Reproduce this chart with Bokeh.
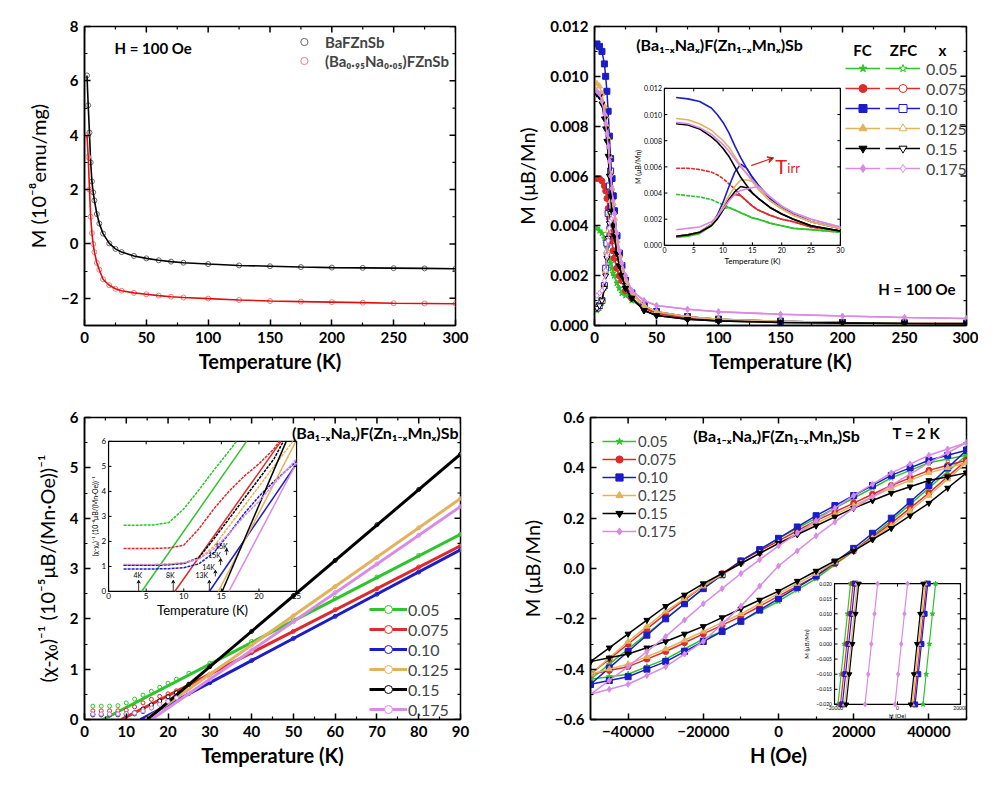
import numpy as np
from bokeh.plotting import figure
from bokeh.layouts import row, column
from bokeh.models import (Range1d, Legend, LegendItem, Label, Arrow,
                          VeeHead, FixedTicker, CustomJSTickFormatter, NumeralTickFormatter)
from bokeh.core.properties import value
from bokeh.embed import file_html
from bokeh.resources import INLINE

FONT = "Lato"

# ===================== DATA =====================
# ---- panel (a): M(T), H = 100 Oe
a_T = [2, 3, 4, 5, 6, 7, 8, 10, 12, 15, 20, 25, 30, 40, 50, 60, 70, 80, 100, 125, 150, 175, 200, 225, 250, 275, 300]
a_BaFZnSb = [6.2, 5.1, 4.1, 3.0, 2.3, 1.9, 1.6, 1.1, 0.75, 0.38, 0.02, -0.18, -0.30, -0.44, -0.53, -0.60, -0.65, -0.69, -0.74, -0.79, -0.82, -0.85, -0.87, -0.88, -0.89, -0.90, -0.91]
a_BaNaFZnSb = [4.0, 3.2, 2.0, 1.0, 0.4, 0.0, -0.3, -0.7, -0.95, -1.3, -1.52, -1.65, -1.72, -1.80, -1.85, -1.90, -1.94, -1.97, -2.01, -2.06, -2.10, -2.12, -2.14, -2.16, -2.18, -2.19, -2.20]
a_names = ["BaFZnSb", "(Ba₀.₉₅Na₀.₀₅)FZnSb"]

# ---- shared series info
x_labels = ["0.05", "0.075", "0.10", "0.125", "0.15", "0.175"]
colors = ["#2ec42e", "#dd2b2b", "#1c1cc8", "#e3b25c", "#000000", "#d98ae6"]
markers = ["star", "circle", "square", "triangle", "inverted_triangle", "diamond"]

# ---- panel (b): FC / ZFC M(T), mu_B/Mn
b_T = [2, 4, 6, 8, 9, 10, 11, 12, 13, 14, 15, 16, 18, 20, 22, 25, 30, 40, 50, 75, 100, 150, 200, 250, 300]
b_fc_005 = [0.0039, 0.0038, 0.0037, 0.0035, 0.0033, 0.0031, 0.0029, 0.0027, 0.0025, 0.0023, 0.0021, 0.0020, 0.0017, 0.0015, 0.0013, 0.0012, 0.0010, 0.0007, 0.0005, 0.0003, 0.00022, 0.00015, 0.00012, 0.0001, 0.00008]
b_zfc_005 = [0.0006, 0.0007, 0.0009, 0.0015, 0.0021, 0.0028, 0.0029, 0.0027, 0.0025, 0.0023, 0.0021, 0.0020, 0.0017, 0.0015, 0.0013, 0.0012, 0.0010, 0.0007, 0.0005, 0.0003, 0.00022, 0.00015, 0.00012, 0.0001, 0.00008]
b_fc_0075 = [0.0059, 0.0059, 0.0058, 0.0056, 0.0054, 0.0051, 0.0047, 0.0043, 0.0038, 0.0034, 0.0030, 0.0027, 0.0023, 0.0020, 0.0018, 0.0014, 0.0011, 0.0007, 0.0005, 0.0003, 0.00022, 0.00015, 0.00011, 0.00009, 0.00008]
b_zfc_0075 = [0.0007, 0.0008, 0.0010, 0.0016, 0.0022, 0.0029, 0.0035, 0.0039, 0.0038, 0.0034, 0.0030, 0.0027, 0.0023, 0.0020, 0.0018, 0.0014, 0.0011, 0.0007, 0.0005, 0.0003, 0.00022, 0.00015, 0.00011, 0.00009, 0.00008]
b_fc_010 = [0.0113, 0.0112, 0.0110, 0.0105, 0.0100, 0.0094, 0.0086, 0.0076, 0.0067, 0.0059, 0.0052, 0.0046, 0.0036, 0.0029, 0.0024, 0.0018, 0.0013, 0.0008, 0.00055, 0.00035, 0.00025, 0.00017, 0.00012, 0.0001, 0.00009]
b_zfc_010 = [0.0007, 0.0008, 0.0010, 0.0016, 0.0023, 0.0033, 0.0045, 0.0056, 0.0062, 0.0059, 0.0052, 0.0046, 0.0036, 0.0029, 0.0024, 0.0018, 0.0013, 0.0008, 0.00055, 0.00035, 0.00025, 0.00017, 0.00012, 0.0001, 0.00009]
b_fc_0125 = [0.0097, 0.0096, 0.0093, 0.0088, 0.0084, 0.0080, 0.0075, 0.0068, 0.0061, 0.0055, 0.0049, 0.0043, 0.0034, 0.0028, 0.0023, 0.0018, 0.0013, 0.0008, 0.00055, 0.00035, 0.00025, 0.00017, 0.00012, 0.0001, 0.00009]
b_zfc_0125 = [0.0007, 0.0008, 0.0010, 0.0016, 0.0022, 0.0030, 0.0038, 0.0045, 0.0050, 0.0050, 0.0049, 0.0043, 0.0034, 0.0028, 0.0023, 0.0018, 0.0013, 0.0008, 0.00055, 0.00035, 0.00025, 0.00017, 0.00012, 0.0001, 0.00009]
b_fc_015 = [0.0093, 0.0092, 0.0089, 0.0083, 0.0079, 0.0074, 0.0068, 0.0060, 0.0052, 0.0046, 0.0040, 0.0036, 0.0029, 0.0024, 0.0020, 0.0015, 0.0011, 0.0006, 0.0004, 0.00025, 0.00018, 0.00012, 0.0001, 0.00008, 0.00007]
b_zfc_015 = [0.0007, 0.0008, 0.0010, 0.0015, 0.0020, 0.0027, 0.0035, 0.0041, 0.0045, 0.0044, 0.0040, 0.0036, 0.0029, 0.0024, 0.0020, 0.0015, 0.0011, 0.0006, 0.0004, 0.00025, 0.00018, 0.00012, 0.0001, 0.00008, 0.00007]
b_fc_0175 = [0.0094, 0.0093, 0.0090, 0.0085, 0.0081, 0.0077, 0.0072, 0.0066, 0.0060, 0.0055, 0.0050, 0.0045, 0.0037, 0.0030, 0.0025, 0.0020, 0.0014, 0.0010, 0.0008, 0.00065, 0.00055, 0.00045, 0.00038, 0.00032, 0.00028]
b_zfc_0175 = [0.0012, 0.0013, 0.0014, 0.0018, 0.0022, 0.0028, 0.0034, 0.0039, 0.0042, 0.0043, 0.0044, 0.0045, 0.0037, 0.0030, 0.0025, 0.0020, 0.0014, 0.0010, 0.0008, 0.00065, 0.00055, 0.00045, 0.00038, 0.00032, 0.00028]

# ---- panel (c): inverse susceptibility (10^-5 units), with Curie-Weiss fits
c_T = [2, 4, 6, 8, 10, 12, 14, 16, 18, 20, 22, 25, 30, 40, 50, 60, 70, 80, 90]
c_005 = [0.265, 0.265, 0.266, 0.275, 0.33, 0.405, 0.485, 0.56, 0.64, 0.72, 0.80, 0.92, 1.12, 1.55, 1.98, 2.41, 2.83, 3.26, 3.68]
c_0075 = [0.172, 0.172, 0.172, 0.174, 0.185, 0.25, 0.33, 0.40, 0.46, 0.51, 0.57, 0.70, 0.90, 1.33, 1.75, 2.18, 2.60, 3.03, 3.45]
c_010 = [0.09, 0.09, 0.09, 0.091, 0.095, 0.11, 0.155, 0.23, 0.31, 0.38, 0.44, 0.52, 0.73, 1.17, 1.61, 2.05, 2.49, 2.93, 3.37]
c_0125 = [0.105, 0.105, 0.105, 0.107, 0.112, 0.13, 0.18, 0.26, 0.34, 0.42, 0.50, 0.62, 0.90, 1.48, 2.06, 2.64, 3.22, 3.81, 4.39]
c_015 = [0.105, 0.105, 0.105, 0.107, 0.112, 0.135, 0.21, 0.29, 0.37, 0.45, 0.53, 0.70, 1.05, 1.75, 2.46, 3.16, 3.87, 4.57, 5.27]
c_0175 = [0.108, 0.108, 0.108, 0.11, 0.115, 0.13, 0.17, 0.23, 0.30, 0.36, 0.43, 0.53, 0.80, 1.37, 1.94, 2.52, 3.09, 3.66, 4.23]
c_fit_T0 = [4.4, 8.8, 13.4, 14.6, 15.1, 16.0]      # x-intercepts of the fits (K)
c_fit_Tend = 90
c_fit_yend = [3.68, 3.45, 3.37, 4.39, 5.27, 4.23]  # fit value at 90 K
c_theta_labels = ["4K", "8K", "13K", "14K", "15K", "16K"]

# ---- panel (d): M(H) loops at 2 K
d_H_down = [50000, 45000, 40000, 35000, 30000, 25000, 20000, 15000, 10000, 5000, 0,
            -5000, -10000, -15000, -20000, -25000, -30000, -35000, -40000, -45000, -50000]
d_H_up = [-50000, -45000, -40000, -35000, -30000, -25000, -20000, -15000, -10000, -5000, 0,
          5000, 10000, 15000, 20000, 25000, 30000, 35000, 40000, 45000, 50000]
d_dn_005 = [0.45, 0.435, 0.42, 0.39, 0.36, 0.32, 0.28, 0.24, 0.20, 0.16, 0.12, 0.075, 0.03, -0.025, -0.08, -0.14, -0.20, -0.26, -0.32, -0.38, -0.44]
d_up_005 = [-0.44, -0.43, -0.42, -0.39, -0.36, -0.32, -0.28, -0.25, -0.21, -0.17, -0.13, -0.085, -0.04, 0.015, 0.07, 0.13, 0.19, 0.255, 0.32, 0.385, 0.45]
d_dn_0075 = [0.43, 0.41, 0.39, 0.36, 0.33, 0.295, 0.26, 0.225, 0.19, 0.15, 0.11, 0.07, 0.03, -0.02, -0.07, -0.125, -0.18, -0.24, -0.30, -0.36, -0.42]
d_up_0075 = [-0.42, -0.405, -0.39, -0.36, -0.33, -0.295, -0.26, -0.225, -0.19, -0.15, -0.11, -0.07, -0.03, 0.02, 0.07, 0.125, 0.18, 0.24, 0.30, 0.365, 0.43]
d_dn_010 = [0.47, 0.45, 0.43, 0.40, 0.37, 0.33, 0.29, 0.25, 0.21, 0.165, 0.12, 0.075, 0.03, -0.025, -0.08, -0.14, -0.20, -0.265, -0.33, -0.395, -0.46]
d_up_010 = [-0.46, -0.445, -0.43, -0.40, -0.37, -0.33, -0.29, -0.25, -0.21, -0.165, -0.12, -0.075, -0.03, 0.025, 0.08, 0.14, 0.20, 0.265, 0.33, 0.40, 0.47]
d_dn_0125 = [0.42, 0.40, 0.38, 0.35, 0.32, 0.285, 0.25, 0.215, 0.18, 0.14, 0.10, 0.06, 0.02, -0.025, -0.07, -0.12, -0.17, -0.23, -0.29, -0.355, -0.42]
d_up_0125 = [-0.42, -0.40, -0.38, -0.35, -0.32, -0.285, -0.25, -0.215, -0.18, -0.14, -0.10, -0.06, -0.02, 0.025, 0.07, 0.12, 0.17, 0.23, 0.29, 0.355, 0.42]
d_dn_015 = [0.38, 0.365, 0.35, 0.325, 0.30, 0.27, 0.24, 0.205, 0.17, 0.135, 0.10, 0.06, 0.02, -0.02, -0.06, -0.105, -0.15, -0.205, -0.26, -0.315, -0.37]
d_up_015 = [-0.37, -0.355, -0.34, -0.315, -0.29, -0.26, -0.23, -0.195, -0.16, -0.125, -0.09, -0.05, -0.01, 0.03, 0.07, 0.115, 0.16, 0.21, 0.26, 0.32, 0.38]
d_dn_0175 = [0.50, 0.475, 0.45, 0.415, 0.38, 0.335, 0.29, 0.24, 0.19, 0.14, 0.09, 0.035, -0.02, -0.08, -0.14, -0.205, -0.27, -0.33, -0.39, -0.445, -0.50]
d_up_0175 = [-0.50, -0.48, -0.46, -0.425, -0.39, -0.34, -0.29, -0.22, -0.15, -0.07, 0.01, 0.07, 0.13, 0.185, 0.24, 0.285, 0.33, 0.375, 0.42, 0.46, 0.50]
# inset (d): zoom around M = 0
d_in_M = [-0.02, -0.01, 0.0, 0.01, 0.02]
d_in_L_005 = [-18900, -17900, -16900, -15900, -14900]
d_in_R_005 = [8100, 9100, 10100, 11100, 12100]
d_in_L_0075 = [-18100, -17100, -16100, -15100, -14100]
d_in_R_0075 = [5200, 6200, 7200, 8200, 9200]
d_in_L_010 = [-17500, -16500, -15500, -14500, -13500]
d_in_R_010 = [5600, 6600, 7600, 8600, 9600]
d_in_L_0125 = [-16800, -15800, -14800, -13800, -12800]
d_in_R_0125 = [4700, 5700, 6700, 7700, 8700]
d_in_L_015 = [-16300, -15300, -14300, -13300, -12300]
d_in_R_015 = [4200, 5200, 6200, 7200, 8200]
d_in_L_0175 = [-10300, -9300, -8300, -7300, -6300]
d_in_R_0175 = [-800, 200, 1200, 2200, 3200]

b_fc = [b_fc_005, b_fc_0075, b_fc_010, b_fc_0125, b_fc_015, b_fc_0175]
b_zfc = [b_zfc_005, b_zfc_0075, b_zfc_010, b_zfc_0125, b_zfc_015, b_zfc_0175]
c_data = [c_005, c_0075, c_010, c_0125, c_015, c_0175]
d_dn = [d_dn_005, d_dn_0075, d_dn_010, d_dn_0125, d_dn_015, d_dn_0175]
d_up = [d_up_005, d_up_0075, d_up_010, d_up_0125, d_up_015, d_up_0175]
d_in_L = [d_in_L_005, d_in_L_0075, d_in_L_010, d_in_L_0125, d_in_L_015, d_in_L_0175]
d_in_R = [d_in_R_005, d_in_R_0075, d_in_R_010, d_in_R_0125, d_in_R_015, d_in_R_0175]

FORMULA = "(Ba₁₋ₓNaₓ)F(Zn₁₋ₓMnₓ)Sb"

# ===================== HELPERS =====================
def fig(xr, yr, fw, fh, bl, br, bt, bb):
    p = figure(x_range=Range1d(*xr), y_range=Range1d(*yr),
               frame_width=fw, frame_height=fh,
               min_border_left=bl, min_border_right=br,
               min_border_top=bt, min_border_bottom=bb,
               output_backend="svg", toolbar_location=None, tools="")
    p.xgrid.visible = False
    p.ygrid.visible = False
    p.outline_line_color = "black"
    p.outline_line_width = 1.5
    return p


def style_axes(p, xr, yr, fw, fh, xt, xm, yt, ym, xfmt, yfmt, xlabel, ylabel):
    xtk = FixedTicker(ticks=xt, minor_ticks=xm)
    ytk = FixedTicker(ticks=yt, minor_ticks=ym)
    xa, ya = p.xaxis[0], p.yaxis[0]
    xa.ticker = xtk
    ya.ticker = ytk
    if xfmt is not None:
        xa.formatter = xfmt
    if yfmt is not None:
        ya.formatter = yfmt
    for ax in (xa, ya):
        ax.axis_line_width = 1.5
        ax.major_tick_in = 6
        ax.major_tick_out = 0
        ax.minor_tick_in = 3
        ax.minor_tick_out = 0
        ax.major_tick_line_width = 1.5
        ax.minor_tick_line_width = 1.2
        ax.major_label_text_font = FONT
        ax.major_label_text_font_style = "bold"
        ax.major_label_text_font_size = "15px"
        ax.major_label_text_color = "black"
        ax.major_label_standoff = 6
        ax.axis_label_text_font = FONT
        ax.axis_label_text_font_size = "20px"
        ax.axis_label_text_color = "black"
    xa.axis_label = xlabel
    xa.axis_label_text_font_style = "bold"
    xa.axis_label_standoff = 3
    ya.axis_label = ylabel
    ya.axis_label_text_font_style = "normal"
    ya.axis_label_standoff = 8
    # mirrored inward ticks on the top and right frame edges
    dx = (xr[1] - xr[0]) / fw
    dy = (yr[1] - yr[0]) / fh
    top, rgt = yr[1], xr[1]
    for ticks, ln, lw in ((xt, 6, 1.5), (xm, 3, 1.2)):
        p.segment(x0=ticks, y0=[top] * len(ticks), x1=ticks, y1=[top - ln * dy] * len(ticks),
                  line_color="black", line_width=lw)
    for ticks, ln, lw in ((yt, 6, 1.5), (ym, 3, 1.2)):
        p.segment(x0=[rgt] * len(ticks), y0=ticks, x1=[rgt - ln * dx] * len(ticks), y1=ticks,
                  line_color="black", line_width=lw)


def lab(p, fr, sx, sy, text, size, bold=True, align="left", color="black", baseline="middle"):
    L, R, T, B, x0, x1, y0, y1 = fr
    x = x0 + (sx - L) / (R - L) * (x1 - x0)
    y = y0 + (B - sy) / (B - T) * (y1 - y0)
    p.add_layout(Label(x=x, y=y, text=text, text_font=FONT, text_font_size=f"{size}px",
                       text_font_style="bold" if bold else "normal", text_align=align,
                       text_baseline=baseline, text_color=color))


def inset(p, xr, yr, frac, fw, fh):
    xlo, xhi = xr
    ylo, yhi = yr
    fx0, fx1, fy0, fy1 = frac
    sx = (xhi - xlo) / (fx1 - fx0)
    sy = (yhi - ylo) / (fy1 - fy0)
    p.extra_x_ranges = {"in": Range1d(xlo - fx0 * sx, xlo - fx0 * sx + sx)}
    p.extra_y_ranges = {"in": Range1d(ylo - fy0 * sy, ylo - fy0 * sy + sy)}
    p.quad(left=[xlo], right=[xhi], bottom=[ylo], top=[yhi], fill_color="white",
           line_color="black", line_width=1.2, x_range_name="in", y_range_name="in")
    return sx / fw, sy / fh


def inset_axes(p, xr, yr, dx, dy, xt, xl, yt, yl, tfs, xtext, xfs, xoff, ytext, yfs, yoff):
    xlo, xhi = xr
    ylo, yhi = yr
    kw = dict(x_range_name="in", y_range_name="in")
    n, m = len(xt), len(yt)
    tl = 3
    sk = dict(line_color="black", line_width=1, **kw)
    p.segment(x0=xt, y0=[ylo] * n, x1=xt, y1=[ylo + tl * dy] * n, **sk)
    p.segment(x0=xt, y0=[yhi] * n, x1=xt, y1=[yhi - tl * dy] * n, **sk)
    p.segment(x0=[xlo] * m, y0=yt, x1=[xlo + tl * dx] * m, y1=yt, **sk)
    p.segment(x0=[xhi] * m, y0=yt, x1=[xhi - tl * dx] * m, y1=yt, **sk)
    tk = dict(text_font=value(FONT), text_font_size=f"{tfs}px", text_color="black", **kw)
    p.text(x=xt, y=[ylo - 2 * dy] * n, text=xl, text_align="center", text_baseline="top", **tk)
    p.text(x=[xlo - 2.5 * dx] * m, y=yt, text=yl, text_align="right", text_baseline="middle", **tk)
    p.text(x=[(xlo + xhi) / 2], y=[ylo - xoff * dy], text=[xtext], text_align="center",
           text_baseline="top", text_font=value(FONT), text_font_size=f"{xfs}px",
           text_color="black", **kw)
    p.text(x=[xlo - yoff * dx], y=[(ylo + yhi) / 2], text=[ytext], angle=np.pi / 2,
           text_align="center", text_baseline="middle", text_font=value(FONT),
           text_font_size=f"{yfs}px", text_color="black", **kw)


def clip_inc(xs, ys, xmax, ymax):
    ox, oy = [xs[0]], [ys[0]]
    for i in range(1, len(xs)):
        x0, y0, x1, y1 = xs[i - 1], ys[i - 1], xs[i], ys[i]
        if x1 <= xmax and y1 <= ymax:
            ox.append(x1)
            oy.append(y1)
            continue
        tx = (xmax - x0) / (x1 - x0) if x1 > xmax else 1.0
        ty = (ymax - y0) / (y1 - y0) if y1 > ymax else 1.0
        t = min(tx, ty)
        ox.append(x0 + t * (x1 - x0))
        oy.append(y0 + t * (y1 - y0))
        break
    return ox, oy


def legend(items, loc, fs, gw, gh, standoff=5, bold=False):
    return Legend(items=items, location=loc, padding=0, margin=0, spacing=0,
                  glyph_width=gw, glyph_height=gh, label_height=gh, label_standoff=standoff,
                  label_text_font=FONT, label_text_font_size=f"{fs}px",
                  label_text_font_style="bold" if bold else "normal",
                  background_fill_alpha=0, border_line_color=None)


fmt_int = CustomJSTickFormatter(code="return (tick < 0 ? '\u2212' : '') + Math.abs(tick).toFixed(0);")
fmt_1 = CustomJSTickFormatter(code="return (tick < 0 ? '\u2212' : '') + Math.abs(tick).toFixed(1);")

FA = (92, 463, 34, 333, 0, 300, -3, 8)
FB = (602, 974, 34, 333, 0, 300, 0, 0.012)
FCC = (92, 468, 425, 727, 0, 90, 0, 6)
FD = (598, 974, 425, 727, -50000, 50000, -0.6, 0.6)

# ===================== PANEL (a) =====================
pa = fig((0, 300), (-3, 8), 371, 299, 84, 34, 26, 63)
style_axes(pa, (0, 300), (-3, 8), 371, 299, list(range(0, 301, 50)), list(range(25, 300, 50)),
           [-2, 0, 2, 4, 6, 8], [-3, -1, 1, 3, 5, 7], None, fmt_int,
           "Temperature (K)", "M (10⁻⁸emu/mg)")
sa1 = pa.scatter(a_T, a_BaFZnSb, marker="circle", size=5, fill_color=None,
                 line_color="#666666", line_width=1)
pa.line(a_T, a_BaFZnSb, line_color="black", line_width=1.6)
sa2 = pa.scatter(a_T, a_BaNaFZnSb, marker="circle", size=5, fill_color=None,
                 line_color="#e88080", line_width=1)
pa.line(a_T, a_BaNaFZnSb, line_color="#e01010", line_width=1.6)
lega = Legend(items=[LegendItem(label=a_names[0], renderers=[sa1]),
                     LegendItem(label=a_names[1], renderers=[sa2])],
              location="top_right", padding=2, margin=6, spacing=0, glyph_width=18,
              glyph_height=19, label_height=19, label_standoff=12, label_text_font=FONT,
              label_text_font_size="15px", label_text_font_style="bold",
              background_fill_alpha=0, border_line_color=None)
pa.add_layout(lega)
lab(pa, FA, 15, 50, "(a)", 22)
lab(pa, FA, 122, 55, "H = 100 Oe", 15)

# ===================== PANEL (b) =====================
pb = fig((0, 300), (0, 0.012), 372, 299, 105, 12, 26, 63)
style_axes(pb, (0, 300), (0, 0.012), 372, 299, list(range(0, 301, 50)), list(range(25, 300, 50)),
           [0, 0.002, 0.004, 0.006, 0.008, 0.010, 0.012],
           [0.001, 0.003, 0.005, 0.007, 0.009, 0.011],
           None, NumeralTickFormatter(format="0.000"), "Temperature (K)", "M (μB/Mn)")
fc_items, zfc_items = [], []
for i in range(6):
    c = colors[i]
    lz = pb.line(b_T, b_zfc[i], line_color=c, line_width=1.5)
    sz = pb.scatter(b_T, b_zfc[i], marker=markers[i], size=6, line_color=c, fill_color="white")
    lf = pb.line(b_T, b_fc[i], line_color=c, line_width=1.5)
    sf = pb.scatter(b_T, b_fc[i], marker=markers[i], size=6, line_color=c, fill_color=c)
    fc_items.append(LegendItem(label=" ", renderers=[lf, sf]))
    zfc_items.append(LegendItem(label=x_labels[i], renderers=[lz, sz]))
pb.add_layout(legend(fc_items, (251, 147), 15, 35, 20))
pb.add_layout(legend(zfc_items, (291, 147), 16, 35, 20, standoff=6))
lab(pb, FB, 515, 50, "(b)", 22)
lab(pb, FB, 727, 52, FORMULA, 16, align="center")
lab(pb, FB, 870, 57, "FC", 15, align="center")
lab(pb, FB, 911, 57, "ZFC", 15, align="center")
lab(pb, FB, 950, 57, "x", 15, align="center")
lab(pb, FB, 963, 296, "H = 100 Oe", 15, align="right")

# inset (b)
bxr, byr = (0, 30), (0, 0.012)
dxb, dyb = inset(pb, bxr, byr, (0.188, 0.661, 0.268, 0.793), 372, 299)
idx = [k for k, t in enumerate(b_T) if t <= 30]
for i in range(6):
    c = colors[i]
    pb.line([b_T[k] for k in idx], [b_zfc[i][k] for k in idx], line_color=c, line_width=1.6,
            x_range_name="in", y_range_name="in")
    pb.line([b_T[k] for k in idx], [b_fc[i][k] for k in idx], line_color=c, line_width=1.6,
            line_dash="4 1" if i < 2 else "solid", x_range_name="in", y_range_name="in")
inset_axes(pb, bxr, byr, dxb, dyb, [0, 5, 10, 15, 20, 25, 30],
           ["0", "5", "10", "15", "20", "25", "30"],
           [0, 0.002, 0.004, 0.006, 0.008, 0.010, 0.012],
           ["0.000", "0.002", "0.004", "0.006", "0.008", "0.010", "0.012"],
           7, "Temperature (K)", 8, 11, "M (μB/Mn)", 7, 26)
pb.add_layout(Arrow(end=VeeHead(size=6, line_color="#e02020", line_width=1.2),
                    x_start=14.8, y_start=0.0061, x_end=18.6, y_end=0.0067,
                    line_color="#e02020", line_width=1.2, x_range_name="in", y_range_name="in"))
pb.add_layout(Label(x=18.9, y=0.0061, text="T", text_font=FONT, text_font_size="20px",
                    text_color="#e02020", text_baseline="alphabetic",
                    x_range_name="in", y_range_name="in"))
pb.add_layout(Label(x=18.9 + 12 * dxb, y=0.0059, text="irr", text_font=FONT,
                    text_font_size="13px", text_color="#e02020", text_baseline="alphabetic",
                    x_range_name="in", y_range_name="in"))

# ===================== PANEL (c) =====================
pc = fig((0, 90), (0, 6), 376, 302, 84, 29, 29, 57)
style_axes(pc, (0, 90), (0, 6), 376, 302, list(range(0, 91, 10)), list(range(5, 90, 10)),
           [0, 1, 2, 3, 4, 5, 6], [0.5, 1.5, 2.5, 3.5, 4.5, 5.5], None, None,
           "Temperature (K)", "(χ-χ₀)⁻¹ (10⁻⁵μB/(Mn·Oe))⁻¹")
c_items = []
for i in range(6):
    c = colors[i]
    sc = pc.scatter(c_T, c_data[i], marker="circle", size=4, line_color=c, fill_color="white",
                    line_width=1)
    lf = pc.line([c_fit_T0[i], c_fit_Tend], [0, c_fit_yend[i]], line_color=c, line_width=3)
    c_items.append(LegendItem(label=x_labels[i], renderers=[lf, sc]))
pc.add_layout(legend(c_items, (285, 0), 16, 38, 20, standoff=1))
lab(pc, FCC, 15, 438, "(c)", 22)
lab(pc, FCC, 466, 440, FORMULA, 16, align="right")

# inset (c) : same data, axis 0-0.6 (labelled in 10^-4 units)
cxr, cyr = (0, 25), (0, 0.6)
dxc, dyc = inset(pc, cxr, cyr, (0.064, 0.564, 0.424, 0.921), 376, 302)
for i in range(6):
    c = colors[i]
    xs, ys = clip_inc(c_T, c_data[i], 25, 0.6)
    pc.line(xs, ys, line_color=c, line_width=1.5, line_dash="3 1",
            x_range_name="in", y_range_name="in")
    fx, fy = clip_inc([c_fit_T0[i], c_fit_Tend], [0, c_fit_yend[i]], 25, 0.6)
    pc.line(fx, fy, line_color=c, line_width=1.5, x_range_name="in", y_range_name="in")
inset_axes(pc, cxr, cyr, dxc, dyc, [0, 5, 10, 15, 20, 25], ["0", "5", "10", "15", "20", "25"],
           [0, 0.1, 0.2, 0.3, 0.4, 0.5, 0.6], ["0", "1", "2", "3", "4", "5", "6"],
           8, "Temperature (K)", 13, 11, "(χ-χ₀)⁻¹ (10⁻⁴μB/(Mn·Oe))⁻¹", 7, 14)
lab_pos = [(3.9, 0.064), (8.2, 0.064), (12.4, 0.064), (13.3, 0.097), (14.1, 0.144), (15.0, 0.183)]
arr_pos = [(4.0, 0.0, 0.045), (8.6, 0.0, 0.045), (13.4, 0.0, 0.045), (14.2, 0.06, 0.085),
           (14.9, 0.105, 0.132), (15.7, 0.145, 0.172)]
for (tx, ty), (ax_, a0, a1), t in zip(lab_pos, arr_pos, c_theta_labels):
    pc.text(x=[tx], y=[ty], text=[t], text_font=value(FONT), text_font_size="7px",
            text_align="center", text_baseline="middle", text_color="black",
            x_range_name="in", y_range_name="in")
    pc.add_layout(Arrow(end=VeeHead(size=3, line_width=0.8), x_start=ax_, y_start=a0,
                        x_end=ax_, y_end=a1, line_width=0.8,
                        x_range_name="in", y_range_name="in"))

# ===================== PANEL (d) =====================
pd = fig((-50000, 50000), (-0.6, 0.6), 376, 302, 101, 12, 29, 57)
style_axes(pd, (-50000, 50000), (-0.6, 0.6), 376, 302, [-40000, -20000, 0, 20000, 40000],
           [-50000, -30000, -10000, 10000, 30000, 50000],
           [-0.6, -0.4, -0.2, 0.0, 0.2, 0.4, 0.6], [-0.5, -0.3, -0.1, 0.1, 0.3, 0.5],
           fmt_int, fmt_1, "H (Oe)", "M (μB/Mn)")
d_items = []
for i in range(6):
    c = colors[i]
    pd.line(d_H_up, d_up[i], line_color=c, line_width=1.5)
    pd.scatter(d_H_up, d_up[i], marker=markers[i], size=6, line_color=c, fill_color=c)
    l1 = pd.line(d_H_down, d_dn[i], line_color=c, line_width=1.5)
    s1 = pd.scatter(d_H_down, d_dn[i], marker=markers[i], size=6, line_color=c, fill_color=c)
    d_items.append(LegendItem(label=x_labels[i], renderers=[l1, s1]))
pd.add_layout(legend(d_items, (12, 179), 15, 34, 18, standoff=2))
lab(pd, FD, 515, 443, "(d)", 22)
lab(pd, FD, 784, 443, FORMULA, 16, align="center")
lab(pd, FD, 900, 440, "T = 2 K", 15)

# inset (d)
dxr, dyr = (-20000, 20000), (-0.02, 0.02)
dxd, dyd = inset(pd, dxr, dyr, (0.649, 0.984, 0.050, 0.450), 376, 302)
for i in range(6):
    c = colors[i]
    for hs in (d_in_L[i], d_in_R[i]):
        pd.line(hs, d_in_M, line_color=c, line_width=1.2, x_range_name="in", y_range_name="in")
        pd.scatter(hs, d_in_M, marker=markers[i], size=5, line_color=c, fill_color=c,
                   x_range_name="in", y_range_name="in")
inset_axes(pd, dxr, dyr, dxd, dyd, [-20000, 0, 20000], ["−20000", "0", "20000"],
           [-0.02, -0.015, -0.01, -0.005, 0.0, 0.005, 0.01, 0.015, 0.02],
           ["−0.020", "−0.015", "−0.010", "−0.005", "0.000", "0.005", "0.010", "0.015", "0.020"],
           5, "H (Oe)", 6, 8, "M (μB/Mn)", 6, 28)

layout = column(row(pa, pb), row(pc, pd))
open("out.html", "w").write(file_html(layout, INLINE, title="Magnetization"))
